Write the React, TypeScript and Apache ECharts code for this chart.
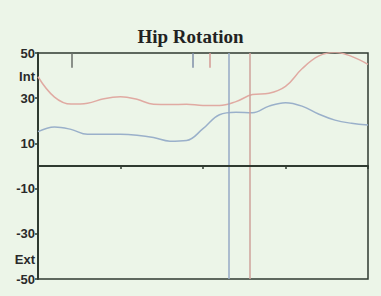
import React, { useEffect, useRef } from "react";
import * as echarts from "echarts";

const xs = [0, 5, 10, 15, 20, 25, 30, 35, 40, 45, 50, 55, 60, 65, 70, 75, 80, 85, 90, 95, 100];
const intRed = [39.5, 30.5, 27.4, 27.8, 29.8, 30.6, 29.5, 27.3, 27.2, 27.3, 26.8, 26.8, 28.5, 31.6, 32.2, 35.2, 43, 48.6, 50.3, 48.5, 45];
const intBlue = [15.2, 17.3, 16.2, 14.0, 14.0, 14.0, 13.6, 12.6, 11.0, 11.3, 16.5, 22.7, 23.8, 23.6, 26.5, 28.0, 26.5, 23.0, 20.3, 18.9, 18.1];
const yTicks = [50, 30, 10, -10, -30, -50];
const eventTicks = [
  { x: 10.3, color: "#6a6e6a" },
  { x: 46.9, color: "#7f8ea8" },
  { x: 52.1, color: "#d49a94" },
];
const blueEvent = 57.7;
const redEvent = 64.2;

export default function App() {
  const ref = useRef<HTMLDivElement>(null);
  useEffect(() => {
    if (!ref.current) return;
    const chart = echarts.init(ref.current, null, { renderer: "svg" });
    const axisColor = "#2f3a30";
    chart.setOption({
      animation: false,
      backgroundColor: "#ecf5e8",
      title: {
        text: "Hip Rotation",
        left: "center",
        top: 22,
        textStyle: { fontFamily: "Liberation Serif", fontWeight: "bold", fontSize: 19, color: "#222" },
      },
      grid: { left: 38, right: 13, top: 53, bottom: 17, show: true, borderColor: axisColor, borderWidth: 1.5 },
      xAxis: {
        type: "value",
        min: 0,
        max: 100,
        interval: 25,
        axisLine: { show: true, lineStyle: { color: axisColor, width: 2 } },
        axisTick: { show: true, length: 3, inside: false, lineStyle: { color: axisColor, width: 1.5 } },
        axisLabel: { show: false },
        splitLine: { show: false },
      },
      yAxis: {
        type: "value",
        min: -50,
        max: 50,
        interval: 20,
        axisLine: { show: true, lineStyle: { color: axisColor, width: 2 } },
        axisTick: { show: true, length: 3, lineStyle: { color: axisColor, width: 1.5 } },
        axisLabel: {
          margin: 3,
          fontFamily: "Liberation Sans",
          fontWeight: "bold",
          fontSize: 13,
          color: "#2a2a2a",
          formatter: (v: number) => (yTicks.includes(v) ? String(v) : ""),
        },
        splitLine: { show: false },
      },
      graphic: [
        { type: "text", right: 381 - 35, top: 70, style: { text: "Int", font: "bold 13px 'Liberation Sans'", fill: "#2a2a2a" } },
        { type: "text", right: 381 - 35, top: 253, style: { text: "Ext", font: "bold 13px 'Liberation Sans'", fill: "#2a2a2a" } },
      ],
      series: [
        {
          type: "line",
          data: xs.map((x, i) => [x, intRed[i]]),
          smooth: 0.4,
          showSymbol: false,
          lineStyle: { color: "#e0aaa2", width: 1.5 },
          markLine: {
            symbol: "none",
            silent: true,
            label: { show: false },
            data: [
              [{ coord: [redEvent, 50] }, { coord: [redEvent, -50] }],
              [{ coord: [eventTicks[2].x, 50], lineStyle: { color: eventTicks[2].color } }, { coord: [eventTicks[2].x, 43.5] }],
            ],
            lineStyle: { color: "#cfa29b", width: 1.5, type: "solid" },
          },
        },
        {
          type: "line",
          data: xs.map((x, i) => [x, intBlue[i]]),
          smooth: 0.4,
          showSymbol: false,
          lineStyle: { color: "#9ab0ca", width: 1.5 },
          markLine: {
            symbol: "none",
            silent: true,
            label: { show: false },
            data: [
              [{ coord: [blueEvent, 50] }, { coord: [blueEvent, -50] }],
              [{ coord: [eventTicks[0].x, 50], lineStyle: { color: eventTicks[0].color } }, { coord: [eventTicks[0].x, 43.5] }],
              [{ coord: [eventTicks[1].x, 50], lineStyle: { color: eventTicks[1].color } }, { coord: [eventTicks[1].x, 43.5] }],
              [{ coord: [0, 0], lineStyle: { color: axisColor, width: 2 } }, { coord: [100, 0] }],
            ],
            lineStyle: { color: "#96a9c6", width: 1.5, type: "solid" },
          },
        },
      ],
    });
    return () => chart.dispose();
  }, []);
  return <div ref={ref} style={{ width: 381, height: 296, position: "absolute", left: 0, top: 0 }} />;
}
